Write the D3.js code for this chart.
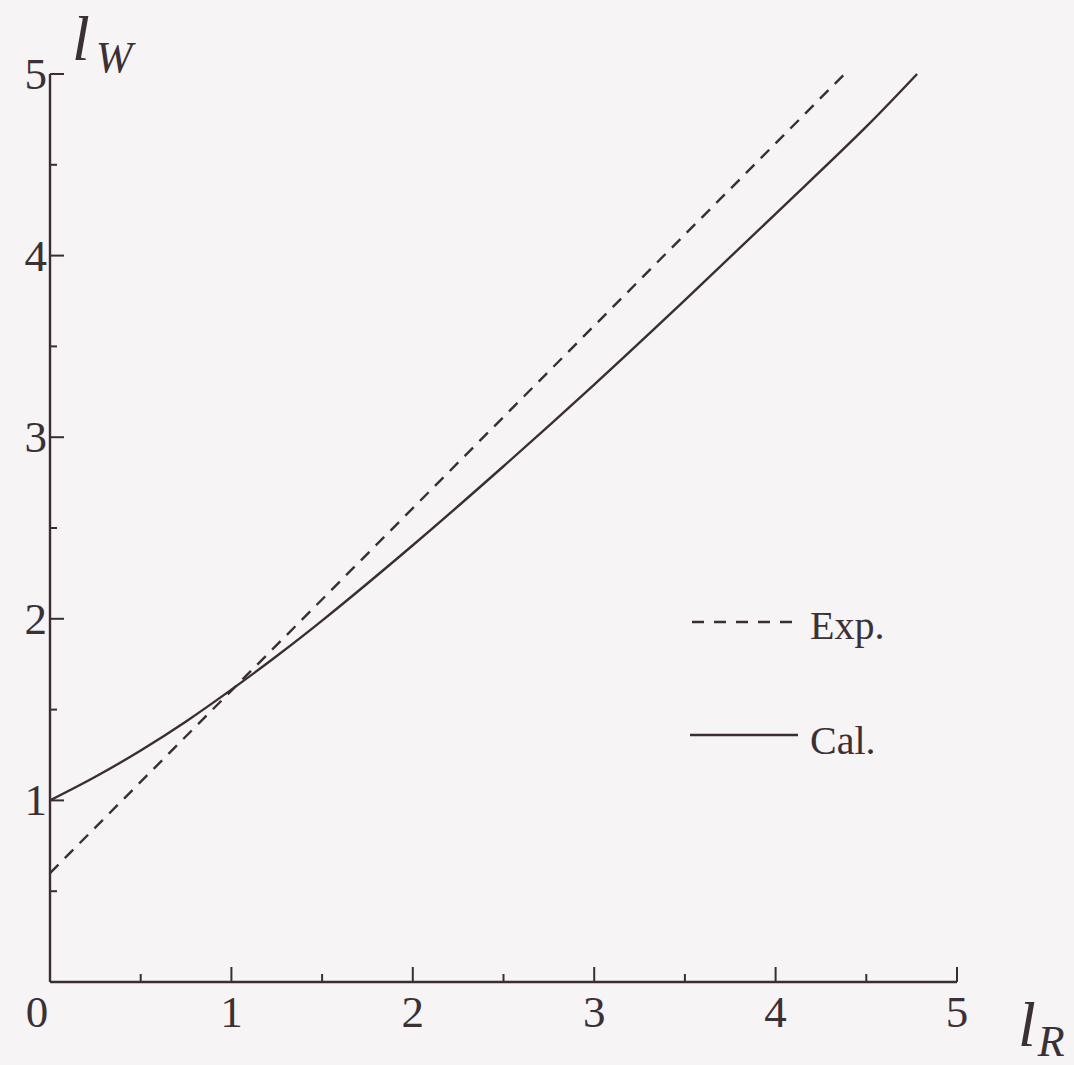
<!DOCTYPE html>
<html>
<head>
<meta charset="utf-8">
<script src="https://cdn.jsdelivr.net/npm/d3@7"></script>
<style>
  html, body { margin: 0; padding: 0; background: #f6f4f4; }
  svg text { fill: #3a3036; }
</style>
</head>
<body>
<svg id="chart" width="1074" height="1065"></svg>
<script>
// values
const xTicks = [0, 1, 2, 3, 4, 5];
const yTicks = [1, 2, 3, 4, 5];
const minorTicks = [0.5, 1.5, 2.5, 3.5, 4.5];

// Exp. (dashed straight line)
const expR = [0, 4.38];
const expW = [0.6, 5.0];

// Cal. (solid curve)
const calR = [0, 0.25, 0.5, 0.75, 1, 1.25, 1.5, 2, 2.5, 3, 3.5, 4, 4.5, 4.78];
const calW = [1, 1.13, 1.275, 1.435, 1.61, 1.795, 1.99, 2.405, 2.84, 3.29, 3.755, 4.23, 4.71, 5.0];

const ink = '#3a2d34';
const serif = '"Liberation Serif", "Times New Roman", Times, "DejaVu Serif", serif';

const margin = { left: 50, top: 74, right: 117, bottom: 83 };
const width = 1074 - margin.left - margin.right;
const height = 1065 - margin.top - margin.bottom;

const x = d3.scaleLinear().domain([0, 5]).range([0, width]);
const y = d3.scaleLinear().domain([0, 5]).range([height, 0]);

const svg = d3.select('#chart');
const chart = svg.append('g')
  .attr('transform', 'translate(' + margin.left + ',' + margin.top + ')');

// axes lines
chart.append('line')
  .attr('x1', 0).attr('x2', x(5)).attr('y1', y(0)).attr('y2', y(0))
  .attr('stroke', ink).attr('stroke-width', 2.4);
chart.append('line')
  .attr('x1', 0).attr('x2', 0).attr('y1', y(0)).attr('y2', y(5))
  .attr('stroke', ink).attr('stroke-width', 2.4);

// x ticks (pointing up)
chart.selectAll('.xmajor').data(xTicks.filter(d => d > 0)).enter().append('line')
  .attr('x1', d => x(d)).attr('x2', d => x(d))
  .attr('y1', y(0)).attr('y2', y(0) - 15)
  .attr('stroke', ink).attr('stroke-width', 2);
chart.selectAll('.xminor').data(minorTicks).enter().append('line')
  .attr('x1', d => x(d)).attr('x2', d => x(d))
  .attr('y1', y(0)).attr('y2', y(0) - 8)
  .attr('stroke', ink).attr('stroke-width', 2);

// y ticks (pointing right)
chart.selectAll('.ymajor').data(yTicks).enter().append('line')
  .attr('x1', 0).attr('x2', 14)
  .attr('y1', d => y(d)).attr('y2', d => y(d))
  .attr('stroke', ink).attr('stroke-width', 2);
chart.selectAll('.yminor').data(minorTicks).enter().append('line')
  .attr('x1', 0).attr('x2', 7)
  .attr('y1', d => y(d)).attr('y2', d => y(d))
  .attr('stroke', ink).attr('stroke-width', 2);

// tick labels
chart.selectAll('.xlab').data(xTicks).enter().append('text')
  .attr('x', d => d === 0 ? x(d) - 13 : x(d))
  .attr('y', y(0) + 45)
  .attr('text-anchor', 'middle')
  .attr('font-family', serif)
  .style('font-size', '45px')
  .text(d => d);

chart.selectAll('.ylab').data(yTicks).enter().append('text')
  .attr('x', -3)
  .attr('y', d => y(d) + 15)
  .attr('text-anchor', 'end')
  .attr('font-family', serif)
  .style('font-size', '45px')
  .text(d => d);

// axis titles
const tW = svg.append('text')
  .attr('x', 72).attr('y', 60)
  .attr('font-family', serif)
  .style('font-size', '64px').style('font-style', 'italic');
tW.append('tspan').text('l');
tW.append('tspan').attr('dx', 6).attr('dy', 12).style('font-size', '44px').text('W');

const tR = svg.append('text')
  .attr('x', 1018).attr('y', 1046)
  .attr('font-family', serif)
  .style('font-size', '64px').style('font-style', 'italic');
tR.append('tspan').text('l');
tR.append('tspan').attr('dx', 2).attr('dy', 10).style('font-size', '44px').text('R');

// data lines
const line = d3.line()
  .x(d => x(d[0]))
  .y(d => y(d[1]))
  .curve(d3.curveCatmullRom);

chart.append('path')
  .attr('d', line(expR.map((r, i) => [r, expW[i]])))
  .attr('fill', 'none')
  .attr('stroke', ink)
  .attr('stroke-width', 2.4)
  .attr('stroke-dasharray', '12,9');

chart.append('path')
  .attr('d', line(calR.map((r, i) => [r, calW[i]])))
  .attr('fill', 'none')
  .attr('stroke', ink)
  .attr('stroke-width', 2.4);

// legend
const legend = svg.append('g');
legend.append('line')
  .attr('x1', 692).attr('x2', 798).attr('y1', 622).attr('y2', 622)
  .attr('stroke', ink).attr('stroke-width', 2.4)
  .attr('stroke-dasharray', '12,10');
legend.append('text')
  .attr('x', 810).attr('y', 639)
  .attr('font-family', serif)
  .style('font-size', '40px')
  .text('Exp.');
legend.append('line')
  .attr('x1', 690).attr('x2', 798).attr('y1', 735).attr('y2', 735)
  .attr('stroke', ink).attr('stroke-width', 2.4);
legend.append('text')
  .attr('x', 810).attr('y', 754)
  .attr('font-family', serif)
  .style('font-size', '40px')
  .text('Cal.');
</script>
</body>
</html>
